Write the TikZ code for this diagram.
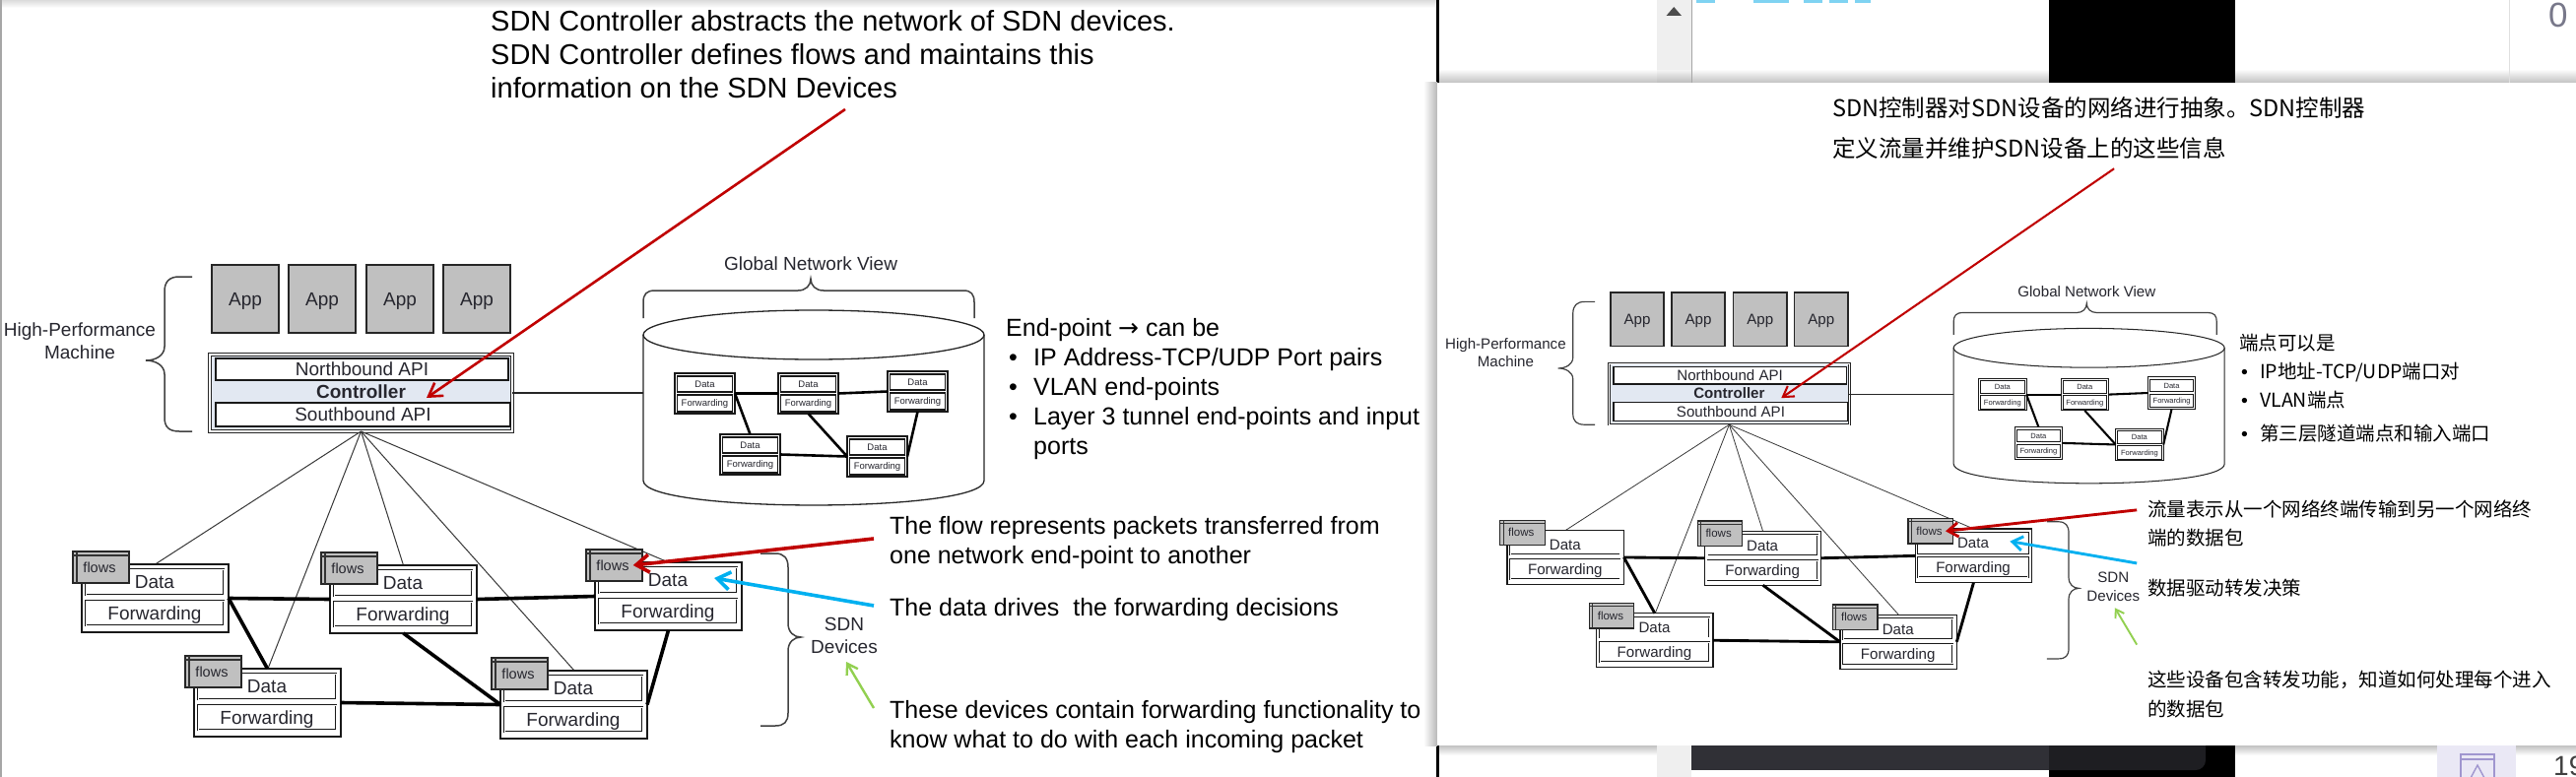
\documentclass[tikz,border=0pt]{standalone}
\usepackage{fontspec}
\setmainfont{Liberation Sans}
\newfontfamily\cjk{Noto Sans CJK SC}
\newfontfamily\djv{DejaVu Sans}
\newfontfamily\lib{Liberation Sans}
\usetikzlibrary{arrows.meta}
\newcommand\pxsize[1]{\fontsize{#1}{#1}\selectfont}
\definecolor{annred}{HTML}{C00000}
\definecolor{annblue}{HTML}{00B0F0}
\definecolor{anngreen}{HTML}{92D050}
\definecolor{appgray}{HTML}{C0C0C0}
\definecolor{ctrlfill}{HTML}{E2E8F2}
\definecolor{dtext}{HTML}{26262E}
\definecolor{lnk}{HTML}{383838}
\definecolor{scrollgray}{HTML}{EFEFEF}
\definecolor{darkband}{HTML}{303036}
\definecolor{darkband2}{HTML}{1E1E22}
\definecolor{lav}{HTML}{EAE8F5}
\definecolor{lavline}{HTML}{A096CF}
\definecolor{numgray}{HTML}{78788A}
\definecolor{topcyan}{HTML}{7FD3F2}
\def\lwf{1}
\tikzset{
  difont/.style={font=\pxsize{19}, text=dtext, inner sep=0pt},
  appbox/.style={draw=black!85, fill=appgray, line width=1.8pt*\lwf, inner sep=0pt, outer sep=0pt,
    minimum width=68pt, minimum height=69pt, anchor=north west, font=\pxsize{19}, text=dtext,
    text height=13.6pt, text depth=0pt},
  ctrlbox/.style={draw=black!85, fill=ctrlfill, double=white, double distance=1.2pt*\lwf, line width=1pt*\lwf,
    inner sep=0pt, outer sep=0pt, minimum width=307pt, minimum height=78pt, anchor=north west},
  apibox/.style={draw=black!90, fill=white, line width=1.6pt*\lwf, inner sep=0pt, outer sep=0pt,
    anchor=north west, font=\pxsize{19}, text=dtext, text height=13.6pt, text depth=0pt},
  ctrltext/.style={font=\fontsize{19}{19}\selectfont\bfseries, text=dtext, inner sep=0pt},
  twoline/.style={font=\fontsize{19}{23}\selectfont, align=center, text=dtext, inner sep=0pt},
  bracel/.style={draw=black!75, line width=1.5pt*\lwf},
  cylline/.style={draw=black!85, line width=1.3pt*\lwf},
  fanline/.style={draw=lnk, line width=1pt*\lwf},
  devlink/.style={draw=black, line width=3.6pt*\lwf},
  minilink/.style={draw=black, line width=2.6pt*\lwf},
  devframe/.style={draw=black!90, fill=white, line width=1.6pt*\lwf, inner sep=0pt, outer sep=0pt,
    anchor=north west, minimum width=149pt, minimum height=69pt},
  devbox/.style={draw=black!90, fill=white, double=white, double distance=0.6pt*\lwf, line width=0.9pt*\lwf,
    inner sep=0pt, outer sep=0pt,
    anchor=north west, minimum width=140pt, font=\pxsize{19}, text=dtext, text height=13.6pt, text depth=0pt},
  flowtab/.style={draw=black!85, fill=appgray, line width=1.6pt*\lwf, inner sep=0pt, outer sep=0pt,
    anchor=north west, minimum width=57pt, minimum height=32pt},
  tabline/.style={draw=black!80, line width=1.2pt*\lwf},
  flowtext/.style={font=\pxsize{14.5}, text=dtext, inner sep=0pt, text height=10pt, text depth=0pt},
  miniframe/.style={draw=black!90, fill=white, line width=1.4pt*\lwf, inner sep=0pt, outer sep=0pt,
    anchor=north west, minimum width=61pt, minimum height=41pt},
  minibox/.style={draw=black!90, fill=white, line width=1.1pt*\lwf, inner sep=0pt, outer sep=0pt,
    anchor=north west, minimum width=56pt, font=\pxsize{9.5}, text=dtext, text height=6.8pt, text depth=0pt},
  arrtop/.style={draw=annred, line width=2.6pt*\lwf, -{Straight Barb[length=13pt,width=16pt,scale=\lwf]}},
  arrred/.style={draw=annred, line width=3.6pt*\lwf, -{Straight Barb[length=13pt,width=18pt,scale=\lwf]}},
  arrblue/.style={draw=annblue, line width=3.6pt*\lwf, -{Straight Barb[length=13pt,width=18pt,scale=\lwf]}},
  arrgreen/.style={draw=anngreen, line width=2.4pt*\lwf, -{Straight Barb[length=10pt,width=13pt,scale=\lwf]}},
  anntop/.style={font=\pxsize{29}, inner sep=0pt, anchor=base west, text=black},
  ann/.style={font=\pxsize{25}, inner sep=0pt, anchor=base west, text=black},
  cjktop/.style={font=\cjk\pxsize{23.5}, inner sep=0pt, anchor=base west, text=black},
  cjkann/.style={font=\cjk\pxsize{19.5}, inner sep=0pt, anchor=base west, text=black},
}
\newcommand{\sdndev}[3]{%
  \node[devframe] (#1) at (#2,#3) {};
  \node[devbox, minimum height=26pt] (#1-data) at ({#2+4},{#3+5}) {Data};
  \node[devbox, minimum height=25pt] (#1-fwd) at ({#2+4},{#3+37}) {Forwarding};
  \node[flowtab] (#1-tab) at ({#2-9},{#3-13}) {};
  \draw[tabline] ({#2-5},{#3-13}) -- ({#2-5},{#3+19});
  \draw[tabline] ({#2-9},{#3-9}) -- ({#2+48},{#3-9});
  \node[flowtext] (#1-flows) at ({#2+18},{#3+3}) {flows};
}
\newcommand{\minidev}[3]{%
  \node[miniframe] (#1) at (#2,#3) {};
  \node[minibox, minimum height=16pt] (#1-data) at ({#2+2.5},{#3+3}) {Data};
  \node[minibox, minimum height=17pt] (#1-fwd) at ({#2+2.5},{#3+22}) {Forwarding};
}
\newcommand{\sdndiagram}[1]{%
  % applications and controller
  \node[appbox] (#1-app1) at (215,269) {App};
  \node[appbox] (#1-app2) at (293,269) {App};
  \node[appbox] (#1-app3) at (372,269) {App};
  \node[appbox] (#1-app4) at (450,269) {App};
  \node[ctrlbox] (#1-ctrl) at (213,360) {};
  \node[apibox, minimum width=297pt, minimum height=22pt] (#1-nb) at (219,364) {Northbound API};
  \node[apibox, minimum width=299pt, minimum height=24pt] (#1-sb) at (219,409) {Southbound API};
  \node[ctrltext] (#1-ctrltxt) at (366.5,398) {Controller};
  \node[twoline] (#1-hpm) at (81,346) {High-Performance\\Machine};
  \draw[bracel] (195,281) -- (182,281) .. controls (172,281) and (167,286) .. (167,296) -- (167,352)
    .. controls (167,361) and (158,366) .. (148,366) .. controls (158,366) and (167,371) .. (167,380)
    -- (167,424) .. controls (167,434) and (172,438) .. (182,438) -- (195,438);
  % global network view
  \draw[cylline] (826,340) ellipse [x radius=173, y radius=25];
  \draw[cylline] (653,340) -- (653,488) .. controls (653,521.3) and (999,521.3) .. (999,488) -- (999,340);
  \coordinate (#1-cyl) at (653,399);
  \draw[bracel] (653,323) -- (653,307) .. controls (653,299) and (656,295) .. (665,295) -- (810,295)
    .. controls (818,295) and (823,290) .. (823,283) .. controls (823,290) and (828,295) .. (836,295)
    -- (978,295) .. controls (986,295) and (989,299) .. (989,307) -- (989,323);
  \node[difont] (#1-gnv) at (823,268) {Global Network View};
  \draw[cylline] (#1-ctrl.east) -- (#1-cyl);
  \minidev{#1-m1}{685}{379}
  \minidev{#1-m2}{790}{379}
  \minidev{#1-m3}{901}{377}
  \minidev{#1-m4}{731}{441}
  \minidev{#1-m5}{860}{443}
  \draw[minilink] (#1-m1.east) -- (#1-m2.west);
  \draw[minilink] (#1-m2.east) -- (#1-m3.west);
  \draw[minilink] (#1-m1.east) -- (#1-m4.north);
  \draw[minilink] (#1-m2.south) -- (#1-m5.west);
  \draw[minilink] (#1-m4.east) -- (#1-m5.west);
  \draw[minilink] (#1-m3.south) -- (#1-m5.east);
  % SDN devices
  \coordinate (#1-apex) at (366.5,438);
  \draw[fanline] (#1-apex) -- (157.5,573) coordinate (#1-e1);
  \draw[fanline] (#1-apex) -- (272,679) coordinate (#1-e4);
  \draw[fanline] (#1-apex) -- (409.5,574) coordinate (#1-e2);
  \draw[fanline] (#1-apex) -- (583,681) coordinate (#1-e5);
  \draw[fanline] (#1-apex) -- (678.5,571) coordinate (#1-e3);
  \sdndev{#1-d1}{83}{573}
  \sdndev{#1-d2}{335}{574}
  \sdndev{#1-d3}{604}{571}
  \sdndev{#1-d4}{197}{679}
  \sdndev{#1-d5}{508}{681}
  \draw[devlink] (#1-d1.east) -- (#1-d2.west);
  \draw[devlink] (#1-d2.east) -- (#1-d3.west);
  \draw[devlink] (#1-d1.east) -- (#1-d4.north);
  \draw[devlink] (#1-d2.south) -- (#1-d5.west);
  \draw[devlink] (#1-d4.east) -- (#1-d5.west);
  \draw[devlink] (#1-d3.south) -- (#1-d5.east);
  \draw[bracel] (772,562) -- (787,562) .. controls (796,562) and (800,567) .. (800,576) -- (800,633)
    .. controls (800,642) and (806,647) .. (813,647) .. controls (806,647) and (800,652) .. (800,661)
    -- (800,724) .. controls (800,733) and (796,737) .. (787,737) -- (772,737);
  \node[twoline] (#1-sdn) at (857,645) {SDN\\Devices};
  % annotation arrows
  \coordinate (#1-a1s) at (858,111);
  \coordinate (#1-a1e) at (433,404);
  \draw[arrtop] (#1-a1s) -- (#1-a1e);
  \coordinate (#1-a2s) at (887,547);
  \draw[arrred] (#1-a2s) -- ([xshift=4pt]#1-d3-flows.east);
  \coordinate (#1-a3s) at (887,615);
  \coordinate (#1-a3e) at (725,587);
  \draw[arrblue] (#1-a3s) -- (#1-a3e);
  \coordinate (#1-a4s) at (887,719);
  \coordinate (#1-a4e) at (859,672);
  \draw[arrgreen] (#1-a4s) -- (#1-a4e);
}
\begin{document}
\begin{tikzpicture}[x=1pt, y=-1pt]
\useasboundingbox (0,0) rectangle (2615,789);
\fill[white] (0,0) rectangle (2615,789);
% ---------- left slide ----------
\shade[top color=black!14, bottom color=white] (0,0) rectangle (1458,8);
\fill[black!35] (0,0) rectangle (2,789);
\sdndiagram{L}
\node[anntop] (L-t1) at (498,31.5) {SDN Controller abstracts the network of SDN devices.};
\node[anntop] (L-t2) at (498,65.5) {SDN Controller defines flows and maintains this};
\node[anntop] (L-t3) at (498,100) {information on the SDN Devices};
\node[ann] (L-ep) at (1021,341) {End-point {\djv →} can be};
\node[ann] (L-b1) at (1024,371) {\makebox[25pt][l]{•}IP Address-TCP/UDP Port pairs};
\node[ann] (L-b2) at (1024,401) {\makebox[25pt][l]{•}VLAN end-points};
\node[ann] (L-b3) at (1024,431) {\makebox[25pt][l]{•}Layer 3 tunnel end-points and input};
\node[ann] (L-b3b) at (1049,461) {ports};
\node[ann] (L-f1) at (903,542) {The flow represents packets transferred from};
\node[ann] (L-f2) at (903,572) {one network end-point to another};
\node[ann] (L-dd) at (903,625) {The data drives\ \ the forwarding decisions};
\node[ann] (L-dv1) at (903,729) {These devices contain forwarding functionality to};
\node[ann] (L-dv2) at (903,759) {know what to do with each incoming packet};
% ---------- screenshot frame on the right ----------
\fill[black] (1458,0) rectangle (1461,84);
\fill[black] (1458,757) rectangle (1461,789);
% top strip
\shade[top color=white, bottom color=black!24] (1461,70) rectangle (2615,84);
\fill[scrollgray] (1682,0) rectangle (1717,72);
\shade[top color=scrollgray, bottom color=black!26] (1682,72) rectangle (1717,84);
\fill[black!35] (1716.5,0) rectangle (1718,84);
\fill[black!70] (1691.5,16) -- (1707,16) -- (1699.2,7) -- cycle;
\fill[topcyan] (1722,0) rectangle (1741,3);
\fill[topcyan] (1780,0) rectangle (1816,3);
\fill[topcyan] (1831,0) rectangle (1850,3);
\fill[topcyan] (1857,0) rectangle (1876,3);
\fill[topcyan] (1883,0) rectangle (1899,3);
\fill[black] (2080,0) rectangle (2269,84);
\fill[black!12] (2546.5,0) rectangle (2547.5,84);
\node[font=\pxsize{35}, text=numgray, inner sep=0pt, anchor=base west] (topnum) at (2587,28) {0};
% bottom strip
\shade[top color=black!24, bottom color=white] (1461,757) rectangle (2615,767);
\fill[scrollgray] (1682,757) rectangle (1717,789);
\fill[black] (2080,757) rectangle (2269,789);
\fill[darkband] (1717,757) rectangle (2080,782);
\fill[darkband2] (2080,757) -- (2239,757) -- (2239,772) arc[start angle=0, end angle=90, radius=10] -- (2080,782) -- cycle;
\fill[lav] (2474,757) rectangle (2554,789);
\draw[lavline, line width=1.6pt] (2498,795) -- (2498,766) -- (2532,766) -- (2532,795);
\draw[lavline, line width=1.6pt] (2498,771) -- (2532,771);
\draw[lavline, line width=1.4pt] (2508,790) -- (2515,777) -- (2522,790);
\node[font=\pxsize{28}, text=black!75, inner sep=0pt, anchor=base west] (botnum) at (2592,787) {19};
% panel with shadow
\shade[left color=white, right color=black!28] (1445,84) rectangle (1459,757);
\fill[white] (1459,84) rectangle (2615,757);
\begin{scope}[shift={(1464,83)}, scale=0.795, transform shape]
  \def\lwf{0.795}
  \sdndiagram{R}
\end{scope}
\node[cjktop] (R-t1) at (1860,119) {SDN控制器对SDN设备的网络进行抽象。SDN控制器};
\node[cjktop] (R-t2) at (1860,160) {定义流量并维护SDN设备上的这些信息};
\node[cjkann] (R-ep) at (2273,355.5) {端点可以是};
\node[cjkann] (R-b1) at (2275,384.5) {\makebox[19pt][l]{\lib •}IP地址-TCP/UDP端口对};
\node[cjkann] (R-b2) at (2275,413.5) {\makebox[19pt][l]{\lib •}VLAN端点};
\node[cjkann] (R-b3) at (2275,447.5) {\makebox[19pt][l]{\lib •}第三层隧道端点和输入端口};
\node[cjkann] (R-f1) at (2180,524.5) {流量表示从一个网络终端传输到另一个网络终};
\node[cjkann] (R-f2) at (2180,553.5) {端的数据包};
\node[cjkann] (R-dd) at (2180,604.5) {数据驱动转发决策};
\node[cjkann] (R-dv1) at (2180,697.5) {这些设备包含转发功能，知道如何处理每个进入};
\node[cjkann] (R-dv2) at (2180,727.5) {的数据包};
\end{tikzpicture}
\end{document}
